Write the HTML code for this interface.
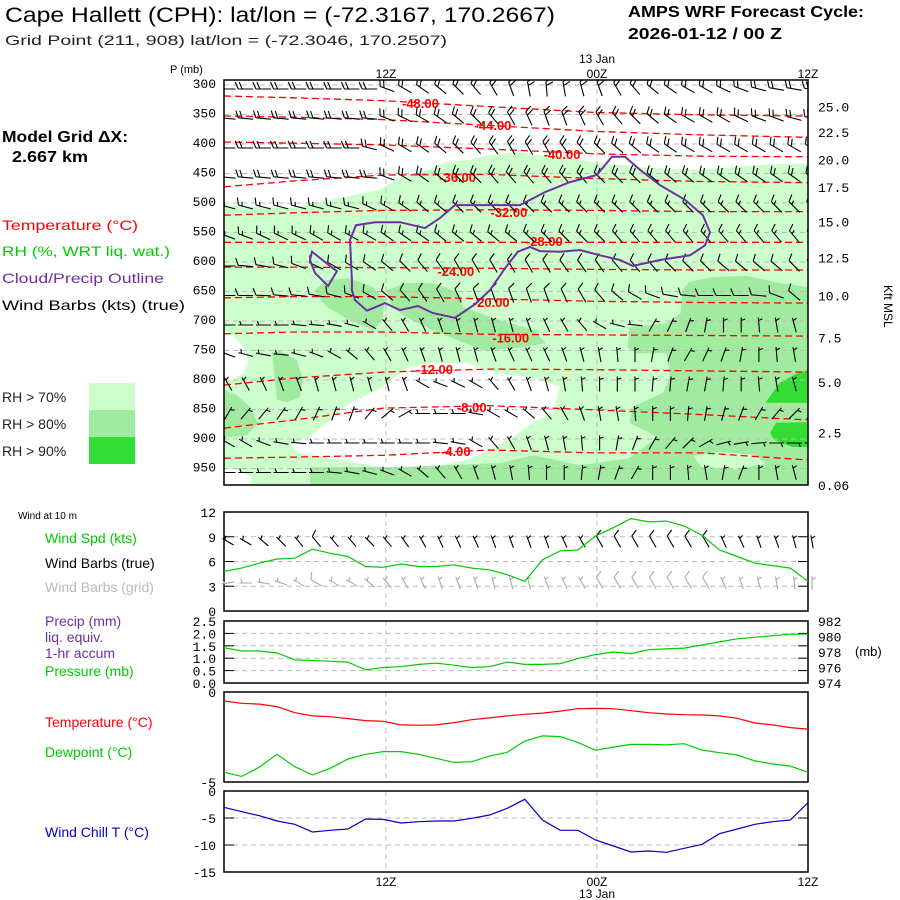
<!DOCTYPE html>
<html><head><meta charset="utf-8"><style>
html,body{margin:0;padding:0;background:#fff;}
svg{display:block;}
text{font-family:"Liberation Sans",sans-serif;}
.m{font-family:"Liberation Mono",monospace;font-size:13px;}
</style></head><body>
<svg id="c" width="900" height="900" viewBox="0 0 900 900" xmlns="http://www.w3.org/2000/svg">
<rect x="0" y="0" width="900" height="900" fill="#fff"/>
<text x="5" y="22" font-size="21" textLength="550" lengthAdjust="spacingAndGlyphs">Cape Hallett (CPH):  lat/lon = (-72.3167, 170.2667)</text>
<text x="5" y="45" font-size="14" textLength="442" lengthAdjust="spacingAndGlyphs" fill="#222">Grid Point (211, 908) lat/lon = (-72.3046, 170.2507)</text>
<text x="628" y="17" font-size="16" font-weight="bold" textLength="236" lengthAdjust="spacingAndGlyphs">AMPS WRF Forecast Cycle:</text>
<text x="628" y="39" font-size="16" font-weight="bold" textLength="154" lengthAdjust="spacingAndGlyphs">2026-01-12 / 00  Z</text>
<text x="2" y="142" font-size="16" font-weight="bold" textLength="126" lengthAdjust="spacingAndGlyphs">Model Grid ΔX:</text>
<text x="12" y="162" font-size="16" font-weight="bold" textLength="76" lengthAdjust="spacingAndGlyphs">2.667 km</text>
<text x="2" y="230" font-size="14" fill="#f00" textLength="136" lengthAdjust="spacingAndGlyphs">Temperature (°C)</text>
<text x="2" y="256" font-size="14" fill="#0c0" textLength="168" lengthAdjust="spacingAndGlyphs">RH (%, WRT liq. wat.)</text>
<text x="2" y="283" font-size="14" fill="#7030a0" textLength="162" lengthAdjust="spacingAndGlyphs">Cloud/Precip Outline</text>
<text x="2" y="310" font-size="14" textLength="183" lengthAdjust="spacingAndGlyphs">Wind Barbs (kts) (true)</text>
<rect x="89" y="383" width="46" height="27" fill="#ccffcc"/>
<rect x="89" y="410" width="46" height="27" fill="#a0eba0"/>
<rect x="89" y="437" width="46" height="27" fill="#33dd33"/>
<text x="2" y="402" font-size="14" fill="#222">RH &gt; 70%</text>
<text x="2" y="429" font-size="14" fill="#222">RH &gt; 80%</text>
<text x="2" y="456" font-size="14" fill="#222">RH &gt; 90%</text>
<text x="170" y="73" font-size="11">P (mb)</text>
<text x="597" y="63" font-size="12" text-anchor="middle">13 Jan</text>
<text x="386" y="78" font-size="12" text-anchor="middle">12Z</text>
<text x="597" y="78" font-size="12" text-anchor="middle">00Z</text>
<text x="808" y="78" font-size="12" text-anchor="middle">12Z</text>
<text transform="translate(884,285) rotate(90)" font-size="12">Kft MSL</text>
<text x="18" y="519" font-size="10">Wind at 10 m</text>
<text x="45" y="543" font-size="14" fill="#0c0">Wind Spd (kts)</text>
<text x="45" y="568" font-size="14">Wind Barbs (true)</text>
<text x="45" y="592" font-size="14" fill="#bbb">Wind Barbs (grid)</text>
<text x="45" y="626" font-size="14" fill="#7030a0">Precip (mm)</text>
<text x="45" y="642" font-size="14" fill="#7030a0">liq. equiv.</text>
<text x="45" y="658" font-size="14" fill="#7030a0">1-hr accum</text>
<text x="45" y="676" font-size="14" fill="#0c0">Pressure (mb)</text>
<text x="45" y="727" font-size="14" fill="#f00">Temperature (°C)</text>
<text x="45" y="757" font-size="14" fill="#0c0">Dewpoint (°C)</text>
<text x="45" y="837" font-size="14" fill="#00c">Wind Chill T (°C)</text>
<text x="855" y="656" font-size="13">(mb)</text>
<text x="386" y="886" font-size="12" text-anchor="middle">12Z</text>
<text x="597" y="886" font-size="12" text-anchor="middle">00Z</text>
<text x="808" y="886" font-size="12" text-anchor="middle">12Z</text>
<text x="597" y="898" font-size="12" text-anchor="middle">13 Jan</text>
<g id="layer"></g>
</svg>
<script>
// ---------- data ----------
const levels = [300,350,400,450,500,550,600,650,700,750,800,850,900,950];
const pressureTicks = [300,350,400,450,500,550,600,650,700,750,800,850,900,950];
const kftLabels = ["25.0","22.5","20.0","17.5","15.0","12.5","10.0","7.5","5.0","2.5","0.06"];
const kftPressures = [340,383,430,476,535,596,660,731,807,892,981];
const timeTickHours = [9.15,21.07,33];
const levelSpeed = [22,22,20,18,15,15,12,8,6,5,5,5,5,5];
const dir300 = [270,270,270,270,270,270,270,270,270,290,300,305,310,315,320,330,340,350,355,350,345,340,330,320,310,305,300,300,295,290,285,280,280,275];
const dir350 = [275,275,275,275,275,275,275,275,275,290,295,300,305,310,315,320,330,335,340,340,335,330,320,315,310,305,300,300,300,295,290,290,285,285];
const dir400 = [270,270,270,270,270,270,270,270,285,295,300,305,310,315,320,325,330,330,330,325,320,315,310,310,305,305,300,300,300,300,300,300,300,300];
const dir450 = [275,275,275,275,275,275,275,275,275,290,300,305,310,315,315,320,320,320,320,320,320,315,315,315,310,310,310,305,305,305,305,305,305,305];
const dir500 = [285,285,285,285,285,285,285,285,295,300,305,310,310,315,315,315,315,315,315,315,315,315,315,315,315,315,315,315,315,315,315,315,315,315];
const dir550 = [290,290,295,295,295,300,300,300,300,305,305,305,310,310,310,310,310,315,315,315,315,315,320,320,320,320,320,320,320,320,320,320,320,320];
const dir600 = [270,275,280,285,290,295,300,300,305,310,315,320,325,330,330,330,330,330,330,325,325,325,320,320,320,315,315,315,310,310,310,310,315,320];
const dir650 = [270,270,272,275,275,280,285,290,300,310,320,325,330,335,340,340,340,340,340,335,330,320,310,300,290,280,275,270,270,270,275,290,310,330];
const dir700 = [270,270,270,270,275,275,280,285,300,320,330,335,340,345,345,345,345,340,335,330,320,300,285,275,30,25,20,10,0,0,355,350,345,340];
const dir750 = [290,285,280,275,285,290,300,310,320,330,335,340,345,345,345,340,335,335,335,340,345,350,355,0,10,20,30,25,20,10,0,355,350,345];
const dir800 = [330,330,335,340,340,345,345,345,345,345,340,300,290,295,300,320,330,340,345,350,355,0,0,0,5,5,10,10,5,0,355,350,345,345];
const dir850 = [30,40,40,35,30,25,20,20,40,50,60,270,270,270,280,300,300,310,320,330,340,350,350,355,0,0,5,10,15,20,30,40,45,45];
const dir900 = [300,300,290,280,275,270,270,270,270,270,270,270,275,280,300,320,330,340,345,350,355,0,10,20,30,40,45,60,75,80,85,90,90,90];
const dir950 = [270,270,270,270,270,270,275,280,285,290,300,310,320,330,340,345,350,355,0,0,5,10,20,30,0,0,355,350,10,20,0,350,345,350];
const levelDirs = [dir300,dir350,dir400,dir450,dir500,dir550,dir600,dir650,dir700,dir750,dir800,dir850,dir900,dir950];

const isoValues = ["-48.00","-44.00","-40.00","-36.00","-32.00","-28.00","-24.00","-20.00","-16.00","-12.00","-8.00","-4.00"];
const isoHours = [0,4,9,15,21,27,33];
const iso48 = [322,325,330,340,350,354,356];
const iso44 = [356,358,362,372,382,388,392];
const iso40 = [400,402,405,412,420,424,425];
const iso36 = [476,466,456,455,462,467,469];
const iso32 = [524,520,516,515,516,518,518];
const iso28 = [570,570,570,570,570,570,570];
const iso24 = [612,612,613,614,616,617,617];
const iso20 = [664,662,662,666,670,672,673];
const iso16 = [725,722,722,726,727,728,729];
const iso12 = [812,800,790,785,786,788,790];
const iso8 = [885,871,851,847,854,862,871];
const iso4 = [936,934,931,922,927,927,939];
const isoLines = [iso48,iso44,iso40,iso36,iso32,iso28,iso24,iso20,iso16,iso12,iso8,iso4];
const isoLabelHour = [11.1,15.2,19.1,13.2,16.1,18.1,13.1,15.1,16.2,11.9,14.0,13.1];
const isoLabelP = [334,371,420,459,519,568,619,671,731,785,849,924];

// RH regions as [hour, pressure] pairs
const rh70 = [[0,507],[3.7,512],[6,498],[8.8,481],[9.9,461],[11.6,447],[12.5,434],[13.9,430],[15,422],[16.7,417],[18.4,425],[20.1,430],[21.2,436],[22.4,439],[24,444],[26.9,447],[30.3,439],[33,436],[33,981],[0,981]];
const rhDry1 = [[3.73,914],[4.86,900],[6.95,846],[8.98,815],[10.34,783],[11.81,775],[13.73,775],[15.59,792],[17.46,800],[18.98,815],[18.59,859],[17.46,876],[16.33,900],[15.03,922],[13.73,939],[11.81,951],[8.98,951],[6.55,939],[4.29,927]];
const rhDry2 = [[0,722],[0.6,730],[1.1,747],[1.4,770],[1.1,792],[0.5,803],[0,808]];
const rhDry3 = [[0,951],[0.9,958],[1.6,968],[1.4,981],[0,981]];
const rh80a = [[25.9,651],[26.3,637],[27.6,629],[29.5,627],[31.4,639],[33,646],[33,981],[4.86,981],[4.86,951],[9.94,951],[15.6,944],[17.5,931],[20.1,948],[22.9,936],[24.5,900],[22.9,876],[23.1,849],[24.8,825],[25.2,798],[25,758],[23.3,758],[22.8,747],[22.9,714],[25,707],[25.8,690]];
const rh80b = [[5.14,651],[5.82,634],[7.12,631],[8.42,646],[9.1,668],[8.93,702],[8.42,719],[7.12,702],[5.82,680],[5.25,659]];
const rh80c = [[9.2,651],[10.3,639],[11.8,639],[13.3,656],[13.5,680],[15.6,702],[17.5,719],[18.2,741],[16.6,749],[14.6,753],[12.8,731],[11.8,719],[10.3,697],[9.5,680]];
const rh80d = [[2.7,756],[3.16,754],[4.12,770],[4.46,803],[4.29,832],[3.56,841],[2.99,837],[2.88,803]];
const rh80e = [[0,820],[0.73,829],[1.47,849],[1.92,876],[1.3,897],[0.5,900],[0,900]];
const rh70spot = [[26.5,932],[28,925],[30,930],[30.6,945],[29,955],[27,951]];
const rh90a = [[30.6,842],[31.4,808],[32.4,792],[33,786],[33,842]];
const rh90b = [[30.85,893],[31.2,876],[33,875],[33,917],[32.1,917],[31.1,905]];
const cloudMain = [[7.23,634],[7.12,566],[7.46,541],[8.53,536],[9.94,536],[11.36,546],[12.2,529],[13.05,507],[16.72,507],[18.14,485],[19.55,468],[21.07,456],[21.92,425],[22.66,425],[23.5,447],[24.63,473],[26.05,498],[27.06,524],[27.46,553],[27.18,575],[26.33,592],[24.63,600],[23.1,610],[22.37,600],[21.24,592],[20.11,583],[18.98,586],[17.85,585],[17.29,578],[16.61,586],[15.88,614],[15.03,651],[14.18,675],[13.05,698],[11.81,690],[10.96,678],[9.94,685],[9.1,673],[8.08,686],[7.4,668],[7.23,651]];
const cloudLobe = [[4.97,586],[4.86,600],[5.14,622],[5.88,644],[6.38,619],[6.16,614]];

// surface series (hourly, 34 points)
const windSpd = [4.8,5.2,5.8,6.3,6.4,7.5,7.0,6.6,5.4,5.3,5.7,5.4,5.4,5.6,5.2,5.0,4.4,3.6,6.2,7.3,7.4,9.1,10.1,11.2,10.8,10.9,10.3,9.2,7.4,6.6,5.8,5.5,5.2,3.6];
const windDirTrue = [300,300,310,315,320,320,320,320,315,320,325,330,335,335,335,340,340,340,340,335,330,330,330,330,330,330,330,330,335,335,340,340,345,350];
const windDirGrid = [260,270,280,290,300,300,300,300,310,320,330,335,340,340,340,345,345,345,340,335,330,330,330,330,330,330,330,330,335,340,345,350,355,0];
const pressure = [978.55,978.13,978.13,977.87,977.0,976.9,976.8,976.7,975.7,976.0,976.1,976.4,976.55,976.3,976.0,976.1,976.7,976.4,976.4,976.5,977.15,977.66,978.0,977.8,978.3,978.4,978.5,978.9,979.3,979.7,979.9,980.1,980.3,980.3];
const temperature = [-0.5,-0.63,-0.67,-0.81,-1.15,-1.33,-1.37,-1.48,-1.59,-1.63,-1.83,-1.85,-1.83,-1.70,-1.54,-1.44,-1.33,-1.24,-1.17,-1.06,-0.93,-0.91,-0.93,-1.04,-1.15,-1.22,-1.26,-1.28,-1.33,-1.46,-1.72,-1.83,-1.98,-2.06];
const dewpoint = [-4.46,-4.69,-4.17,-3.46,-4.15,-4.61,-4.24,-3.72,-3.46,-3.31,-3.31,-3.46,-3.69,-3.91,-3.87,-3.56,-3.35,-2.72,-2.44,-2.48,-2.80,-3.24,-3.06,-2.91,-2.91,-2.94,-2.87,-3.22,-3.37,-3.50,-3.83,-4.0,-4.11,-4.46];
const windChill = [-3.02,-3.83,-4.57,-5.56,-6.17,-7.6,-7.28,-7.04,-5.19,-5.25,-5.93,-5.68,-5.56,-5.56,-5.06,-4.44,-3.21,-1.54,-5.37,-7.28,-7.28,-9.07,-10.19,-11.3,-11.11,-11.36,-10.62,-9.88,-7.9,-7.04,-6.17,-5.68,-5.37,-2.16];
const windTicks = [0,3,6,9,12];
const precipTicks = ["0.0","0.5","1.0","1.5","2.0","2.5"];
const presTicks = [974,976,978,980,982];
const tempTicks = [0,-5];
const chillTicks = [0,-5,-10,-15];

// ---------- scales ----------
const X0=224, X1=808;
const xH = h => X0 + h*(X1-X0)/33;
const yP = p => 83 + (p-300)*0.59;
const TOP_Y=80, TOP_B=485;
const W = {t:512,b:611}, PR = {t:621,b:683}, TP = {t:692,b:782}, WC = {t:791,b:872};
const yWind = v => W.b - v*(W.b-W.t)/12;
const yPrecip = v => PR.b - v*(PR.b-PR.t)/2.5;
const yPres = v => PR.b - (v-974)*(PR.b-PR.t)/8;
const yTemp = v => TP.t - v*(TP.b-TP.t)/5;
const yChill = v => WC.t - v*(WC.b-WC.t)/15;

const NS="http://www.w3.org/2000/svg";
const layer = document.getElementById('layer');
function mk(tag, attrs, parent){
  const e=document.createElementNS(NS,tag);
  for(const k in attrs) e.setAttribute(k,attrs[k]);
  (parent||layer).appendChild(e); return e;
}
function grp(name){
  const g=mk('g',{});
  
  
  return g;
}
function ptsHP(arr){ return arr.map(q=>xH(q[0]).toFixed(1)+','+yP(q[1]).toFixed(1)).join(' '); }

// ---------- top panel ----------
const clipTop = mk('clipPath',{id:'ct'}); mk('rect',{x:X0,y:TOP_Y,width:X1-X0,height:TOP_B-TOP_Y},clipTop);
const rhG = grp('rh-shading'); rhG.setAttribute('clip-path','url(#ct)');
[[rh70,'#ccffcc','rh-70-region'],[rhDry1,'#ffffff','rh-dry-region'],[rhDry2,'#ffffff','rh-dry-region-left'],[rhDry3,'#ffffff','rh-dry-region-corner'],
 [rh80a,'#a0eba0','rh-80-region-right'],[rh80b,'#a0eba0','rh-80-region'],[rh80c,'#a0eba0','rh-80-region'],[rh80d,'#a0eba0','rh-80-region'],[rh80e,'#a0eba0','rh-80-region'],
 [rh70spot,'#ccffcc','rh-70-spot'],[rh90a,'#33dd33','rh-90-region'],[rh90b,'#33dd33','rh-90-region']].forEach(r=>{
  const e=mk('polygon',{points:ptsHP(r[0]),fill:r[1]},rhG);
  
  
});
const gridG = grp('top-gridlines');
pressureTicks.forEach(p=>{
  mk('line',{x1:X0,x2:X1,y1:yP(p)+2,y2:yP(p)+2,stroke:'#bbb','stroke-dasharray':'5,4','stroke-width':1},gridG);
  const t=mk('text',{x:216,y:yP(p)+5,'text-anchor':'end','class':'m'},gridG); t.textContent=p;
  
  
});
timeTickHours.slice(0,2).forEach(h=>{
  mk('line',{x1:xH(h),x2:xH(h),y1:TOP_Y,y2:TOP_B,stroke:'#bbb','stroke-dasharray':'5,4'},gridG);
});
kftLabels.forEach((s,i)=>{
  const t=mk('text',{x:818,y:yP(kftPressures[i])+5,'class':'m'},gridG); t.textContent=s;
  
  
});

// isotherms
const isoG = grp('isotherms');
isoLines.forEach((arr,k)=>{
  const d=arr.map((p,i)=>(i?'L':'M')+xH(isoHours[i]).toFixed(1)+','+yP(p).toFixed(1)).join(' ');
  const e=mk('path',{d:d,fill:'none',stroke:'#f00','stroke-width':1.3,'stroke-dasharray':'7,4'},isoG);
  
  
  const t=mk('text',{x:xH(isoLabelHour[k]),y:yP(isoLabelP[k])+5,'text-anchor':'middle','font-size':13,'font-weight':'bold',fill:'#f00'},isoG);
  t.textContent=isoValues[k];
  
  
});

// barbs (centered on the grid point)
function barb(g,x,y,dir,spd,color,L){
  L=L||15;
  const r=dir*Math.PI/180, ux=Math.sin(r), uy=-Math.cos(r);
  const sx=x-ux*L/2, sy=y-uy*L/2;
  const tx=x+ux*L/2, ty=y+uy*L/2;
  let d='M'+sx.toFixed(1)+','+sy.toFixed(1)+'L'+tx.toFixed(1)+','+ty.toFixed(1);
  const px=-uy, py=ux;
  let n=Math.round(spd/5), pos=0;
  while(n>=2){ const bx=tx-ux*pos, by=ty-uy*pos;
    d+='M'+bx.toFixed(1)+','+by.toFixed(1)+'L'+(bx+px*7+ux*3).toFixed(1)+','+(by+py*7+uy*3).toFixed(1); n-=2; pos+=4; }
  if(n===1){ if(pos===0) pos=3; const bx=tx-ux*pos, by=ty-uy*pos;
    d+='M'+bx.toFixed(1)+','+by.toFixed(1)+'L'+(bx+px*4+ux*1.5).toFixed(1)+','+(by+py*4+uy*1.5).toFixed(1); }
  const e=mk('path',{d:d,fill:'none',stroke:color,'stroke-width':1.1},g);
  
  
}
const barbG = grp('upper-wind-barbs');
barbG.setAttribute('clip-path','url(#ct)');
levels.forEach((p,li)=>{
  levelDirs[li].forEach((dd,i)=>{ barb(barbG,xH(i)+4,yP(p)+6,dd,levelSpeed[li],'#000'); });
});

// cloud outline
const cloudG = grp('cloud-outline');
[cloudMain,cloudLobe].forEach(a=>{
  const e=mk('polygon',{points:ptsHP(a),fill:'none',stroke:'#7030a0','stroke-width':2},cloudG);
  
  
});
const frameTop = mk('rect',{x:X0,y:TOP_Y,width:X1-X0,height:TOP_B-TOP_Y,fill:'none',stroke:'#000','stroke-width':1.5});



// ---------- lower panels ----------
function panel(name,P,ticks,yf,labels){
  const g=grp(name);
  ticks.forEach((v,i)=>{
    const y=yf(v);
    if(y>P.t+1 && y<P.b-1){
      mk('line',{x1:X0,x2:X1,y1:y,y2:y,stroke:'#bbb','stroke-dasharray':'5,4'},g);
      mk('line',{x1:X0,x2:X0+10,y1:y,y2:y,stroke:'#000'},g);
      mk('line',{x1:X1-10,x2:X1,y1:y,y2:y,stroke:'#000'},g);
    }
    if(labels){ const t=mk('text',{x:216,y:y+5,'text-anchor':'end','class':'m'},g); t.textContent=labels[i];
      
       }
  });
  timeTickHours.slice(0,2).forEach(h=>mk('line',{x1:xH(h),x2:xH(h),y1:P.t,y2:P.b,stroke:'#bbb','stroke-dasharray':'5,4'},g));
  const f=mk('rect',{x:X0,y:P.t,width:X1-X0,height:P.b-P.t,fill:'none',stroke:'#000','stroke-width':1.5},g);
  
  
  return g;
}
function series(g,arr,yf,color,name){
  const d=arr.map((v,i)=>(i?'L':'M')+xH(i).toFixed(1)+','+yf(v).toFixed(1)).join(' ');
  const e=mk('path',{d:d,fill:'none',stroke:color,'stroke-width':1.2},g);
  
  
}
const gW = panel('wind-panel',W,windTicks,yWind,windTicks.map(String));
windDirTrue.forEach((dd,i)=>barb(gW,xH(i)+4,yWind(8.4),dd,windSpd[i],'#000',13));
windDirGrid.forEach((dd,i)=>barb(gW,xH(i)+4,yWind(3.4),dd,windSpd[i],'#aaa',13));
series(gW,windSpd,yWind,'#0c0','wind-speed-line');

const gP = panel('precip-pressure-panel',PR,[0,0.5,1,1.5,2,2.5],yPrecip,precipTicks);
presTicks.forEach(v=>{ const t=mk('text',{x:818,y:yPres(v)+5,'class':'m','font-size':12},gP); t.textContent=v;
  
   });
series(gP,pressure,yPres,'#0c0','pressure-line');

const gT = panel('temperature-panel',TP,tempTicks,yTemp,tempTicks.map(String));
series(gT,temperature,yTemp,'#f00','temperature-line');
series(gT,dewpoint,yTemp,'#0c0','dewpoint-line');

const gC = panel('wind-chill-panel',WC,chillTicks,yChill,chillTicks.map(String));
series(gC,windChill,yChill,'#00c','wind-chill-line');
</script>
</body></html>
